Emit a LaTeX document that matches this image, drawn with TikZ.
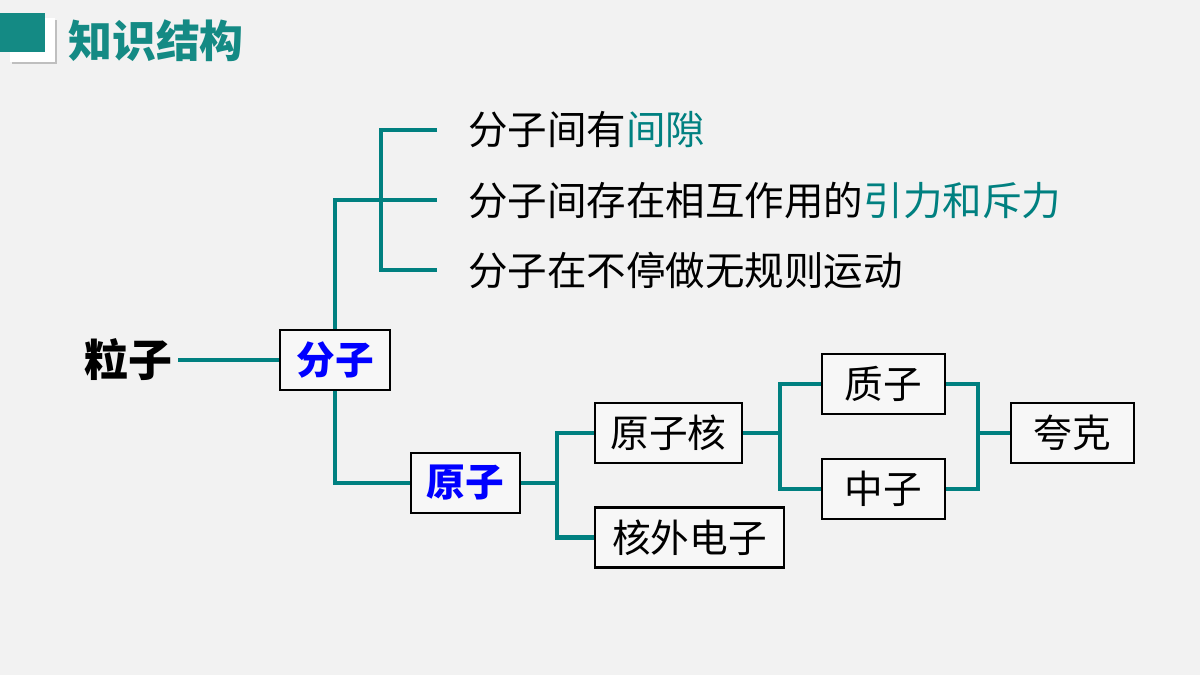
\documentclass[tikz,border=0pt]{standalone}
\usepackage{fontspec}
\setmainfont{Noto Sans CJK SC}
\usetikzlibrary{positioning}
\definecolor{teal1}{RGB}{0,128,128}
\definecolor{teal2}{RGB}{20,138,132}
\definecolor{bg}{RGB}{242,242,242}
\begin{document}
\begin{tikzpicture}[x=0.02cm,y=-0.02cm]
    \tikzstyle{link}=[line width=2.3pt,draw=teal1]
    \tikzstyle{box}=[
      rectangle,
      draw=black,
      fill=bg!60!white,
      line width=1.2pt,
      minimum height=1.2cm,
      font=\fontsize{22}{23}\selectfont,
    ]
    \tikzstyle{fact}=[
      anchor=west,
      font=\fontsize{22.5}{24}\selectfont,
    ]

    \fill[bg] (0,0) rectangle (1200,675);
    \useasboundingbox (0,0) rectangle (1200,675);

    % header
    \fill[black!25] (12,20) rectangle (57,64);
    \fill[white] (10,18) rectangle (55,62);
    \fill[teal2] (0,13) rectangle (45,52);
    \node[anchor=west,text=teal2,font=\fontsize{25}{26}\selectfont\bfseries] (title) at (62,41) {知识结构};

    % boxes
    \node[font=\fontsize{25}{26}\selectfont\bfseries] (lizi) at (128,360) {粒子};
    \node[box,minimum width=2.2cm,text=blue,font=\fontsize{22}{23}\selectfont\bfseries] (fenzi) at (335,360) {分子};
    \node[box,minimum width=2.18cm,text=blue,font=\fontsize{22}{23}\selectfont\bfseries] (yuanzi) at (465.5,483) {原子};
    \node[box,minimum width=2.94cm] (hezi) at (668.5,433) {原子核};
    \node[box,minimum width=3.78cm] (dianzi) at (689.5,537.5) {核外电子};
    \node[box,minimum width=2.46cm] (zhizi) at (883.5,384) {质子};
    \node[box,minimum width=2.46cm] (zhongzi) at (883.5,489) {中子};
    \node[box,minimum width=2.46cm] (kuake) at (1072.5,433) {夸克};

    % facts
    \node[fact] (f1) at (462,130) {分子间有\textcolor{teal1}{间隙}};
    \node[fact] (f2) at (462,200) {分子间存在相互作用的\textcolor{teal1}{引力和斥力}};
    \node[fact] (f3) at (462,270) {分子在不停做无规则运动};
    \coordinate (e1) at (437,130);
    \coordinate (e2) at (437,200);
    \coordinate (e3) at (437,270);

    % connectors
    \draw[link] (lizi.east) -- (fenzi.west);
    \draw[link] (fenzi.north) -- (335,200) -- (381,200);
    \draw[link] (e1) -| (381,270) -- (e3);
    \draw[link] (381,200) -- (e2);
    \draw[link] (fenzi.south) |- (yuanzi.west);
    \draw[link] (yuanzi.east) -- (557,483);
    \draw[link] (hezi.west) -| (557,433) |- (dianzi.west);
    \draw[link] (hezi.east) -- (780,433);
    \draw[link] (zhizi.west) -| (780,433) |- (zhongzi.west);
    \draw[link] (zhizi.east) -| (978,433) |- (zhongzi.east);
    \draw[link] (978,433) -- (kuake.west);
\end{tikzpicture}
\end{document}
